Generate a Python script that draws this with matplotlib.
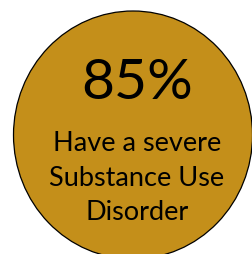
import matplotlib.pyplot as plt
from matplotlib.patches import Ellipse

percent = "85%"
label_lines = ["Have a severe", "Substance Use", "Disorder"]

fig = plt.figure(figsize=(2.53, 2.55), dpi=100)
ax = fig.add_axes([0, 0, 1, 1])
ax.set_xlim(0, 253)
ax.set_ylim(255, 0)
ax.axis("off")

ax.add_patch(Ellipse((133, 136), 239, 248, facecolor="#C48F1A",
                     edgecolor="black", linewidth=0.9))

ax.text(137, 99, percent, ha="center", va="baseline",
        fontsize=41, family="Lato", color="black")

baselines = [151, 186, 220]
for line, y in zip(label_lines, baselines):
    ax.text(137, y, line, ha="center", va="baseline",
            fontsize=19.5, family="Lato", color="black")

fig.savefig("out.png", dpi=100)
